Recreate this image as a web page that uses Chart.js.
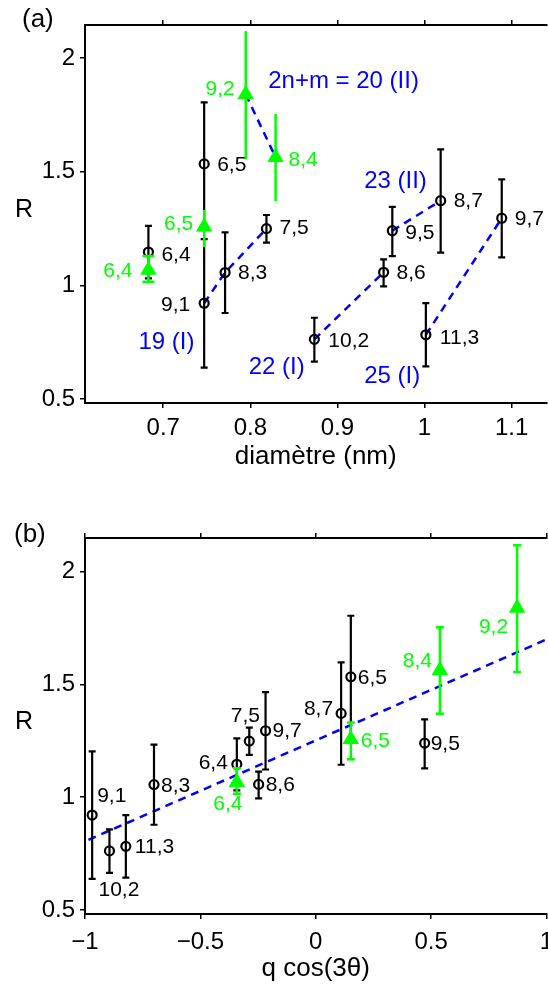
<!DOCTYPE html>
<html>
<head>
<meta charset="utf-8">
<script src="https://cdn.jsdelivr.net/npm/chart.js@4.4.1/dist/chart.umd.min.js"></script>
<style>
html, body { margin: 0; padding: 0; background: #fff; overflow: hidden; width: 548px; height: 988px; }
.panel { position: absolute; left: 0; width: 556px; height: 494px; }
#wrapA { top: 0; }
#wrapB { top: 494px; }
</style>
</head>
<body>
<div class="panel" id="wrapA"><canvas id="chartA" width="556" height="494"></canvas></div>
<div class="panel" id="wrapB"><canvas id="chartB" width="556" height="494"></canvas></div>
<script>
'use strict';

// ── データ ──────────────────────────────────────
// 黒丸 : 同じ順序で (a) と (b) に使う
const blackLabels = ['6,4', '6,5', '9,1', '8,3', '7,5', '10,2', '8,6', '9,5', '11,3', '8,7', '9,7'];
const blackDiam   = [0.683, 0.747, 0.747, 0.771, 0.8185, 0.8735, 0.953, 0.963, 1.0015, 1.0185, 1.0886];
const blackQ      = [-0.342, 0.152, -0.969, -0.701, -0.288, -0.894, -0.2475, 0.472, -0.823, 0.110, -0.2175];
const blackR      = [1.146, 1.534, 0.921, 1.056, 1.249, 0.762, 1.057, 1.240, 0.782, 1.372, 1.295];
const blackRlo    = [1.030, 1.265, 0.638, 0.878, 1.188, 0.664, 0.995, 1.128, 0.643, 1.144, 1.123];
const blackRhi    = [1.261, 1.805, 1.203, 1.233, 1.309, 0.857, 1.114, 1.345, 0.921, 1.598, 1.466];

// 緑三角
const greenLabels = ['6,4', '6,5', '9,2', '8,4'];
const greenDiam   = [0.683, 0.747, 0.7947, 0.829];
const greenQ      = [-0.342, 0.152, 0.8725, 0.538];
const greenR      = [1.067, 1.257, 1.840, 1.563];
const greenRlo    = [1.015, 1.168, 1.555, 1.370];
const greenRhi    = [1.129, 1.331, 2.118, 1.754];

// 2n+m 系列（破線でつなぐ）
const familyNames   = ['2n+m = 20 (II)', '19 (I)', '22 (I)', '23 (II)', '25 (I)'];
const familyMembers = [['9,2', '8,4'], ['9,1', '8,3', '7,5'], ['10,2', '8,6'], ['9,5', '8,7'], ['11,3', '9,7']];

// 直線フィット (b)
const fitQ = [-0.985, 1.0];
const fitR = [0.811, 1.700];

// 目盛
const rTicks    = [0.5, 1, 1.5, 2];
const diamTicks = [0.7, 0.8, 0.9, 1, 1.1];
const qTicks    = [-1, -0.5, 0, 0.5, 1];

// ── 表示設定 ─────────────────────────────────────────────
const FONT = '"Liberation Sans", Arial, Helvetica, sans-serif';
const BLACK = '#000000';
const GREEN = '#00ff00';
const BLUE  = '#0000ff';

// ラベル位置 [dx, dy, align]（px）
const offA_black = {
  '6,4': [13, 3, 'left'], '6,5': [13, 1, 'left'], '9,1': [-14, 2, 'right'], '8,3': [13, 1, 'left'],
  '7,5': [13, 0, 'left'], '10,2': [14, 2, 'left'], '8,6': [13, 1, 'left'], '9,5': [13, 2, 'left'],
  '11,3': [14, 3, 'left'], '8,7': [13, 1, 'left'], '9,7': [13, 1, 'left'],
};
const offA_green = { '6,4': [-16, 1, 'right'], '6,5': [-11, -3, 'right'], '9,2': [-11, -5, 'right'], '8,4': [13, 3, 'left'] };
const offB_black = {
  '9,1': [5, -19, 'left'], '10,2': [-11, 39, 'left'], '11,3': [9, 1, 'left'], '8,3': [7, 2, 'left'],
  '6,4': [-9, -1, 'right'], '7,5': [-4, -25, 'center'], '9,7': [7, 0, 'left'], '8,6': [7, 1, 'left'],
  '8,7': [-8, -4, 'right'], '6,5': [7, 1, 'left'], '9,5': [6, 1, 'left'],
};
const offB_green = { '6,4': [-9, 22, 'center'], '6,5': [10, 2, 'left'], '8,4': [-8, -9, 'right'], '9,2': [-9, 19, 'right'] };

// 系列名の位置（データ座標）と揃え
const familyTextPos = {
  '2n+m = 20 (II)': [0.8205, 1.895, 'left'],
  '19 (I)': [0.6716, 0.75, 'left'],
  '22 (I)': [0.8625, 0.64, 'right'],
  '23 (II)': [0.9307, 1.456, 'left'],
  '25 (I)': [0.9307, 0.601, 'left'],
};

const fmtTick = v => (v < 0 ? '\u2212' + Math.abs(v) : String(v));
const pts = (xs, ys) => xs.map((x, i) => ({ x, y: ys[i] }));

// ── プラグイン：誤差棒 ───────────────────────────────────
const errorBars = {
  id: 'errorBars',
  beforeDatasetDraw(chart, args) {
    const ds = chart.data.datasets[args.index];
    if (!ds.errLo) return;
    const { ctx } = chart;
    const ys = chart.scales.y;
    ctx.save();
    ctx.strokeStyle = ds.borderColor;
    ctx.lineWidth = ds.errWidth;
    args.meta.data.forEach((pt, i) => {
      const x = pt.x;
      const y1 = ys.getPixelForValue(ds.errLo[i]);
      const y2 = ys.getPixelForValue(ds.errHi[i]);
      const c = Array.isArray(ds.errCap) ? ds.errCap[i] : ds.errCap;
      ctx.beginPath();
      ctx.moveTo(x, y1); ctx.lineTo(x, y2);
      if (c) {
        ctx.moveTo(x - c, y1); ctx.lineTo(x + c, y1);
        ctx.moveTo(x - c, y2); ctx.lineTo(x + c, y2);
      }
      ctx.stroke();
    });
    ctx.restore();
  },
};

// ── プラグイン：文字 ─────────────────────────────────────
const annot = {
  id: 'annot',
  afterDatasetsDraw(chart, args, opts) {
    const { ctx, chartArea } = chart;
    const xs = chart.scales.x, ys = chart.scales.y;
    ctx.save();
    ctx.textBaseline = 'middle';

    // 点ラベル
    chart.data.datasets.forEach((ds, di) => {
      if (!ds.pointLabels) return;
      const meta = chart.getDatasetMeta(di);
      ctx.fillStyle = ds.labelColor;
      ctx.font = '21px ' + FONT;
      meta.data.forEach((pt, i) => {
        const name = ds.pointLabels[i];
        const o = ds.labelOffsets[name];
        ctx.textAlign = o[2];
        ctx.fillText(name, pt.x + o[0], pt.y + o[1]);
      });
    });

    // 系列名
    if (opts.families) {
      ctx.fillStyle = BLUE;
      ctx.font = '24px ' + FONT;
      opts.families.forEach(name => {
        const p = familyTextPos[name];
        ctx.textAlign = p[2];
        ctx.fillText(name, xs.getPixelForValue(p[0]), ys.getPixelForValue(p[1]));
      });
    }

    // R と (a)/(b)
    ctx.fillStyle = BLACK;
    ctx.textAlign = 'center';
    ctx.font = '25px ' + FONT;
    ctx.fillText('R', 24, (chartArea.top + chartArea.bottom) / 2 - 4);
    ctx.textAlign = 'left';
    ctx.font = '26px ' + FONT;
    ctx.fillText(opts.panel, opts.panelX, opts.panelY);
    ctx.restore();
  },
};

// ── 共通の軸 ────────────────────────────────────────────
function axisBase(min, max, ticks) {
  return {
    type: 'linear',
    min, max,
    afterBuildTicks: s => { s.ticks = ticks.map(v => ({ value: v })); },
    grid: { display: true, drawOnChartArea: false, drawTicks: true, tickLength: 5, color: BLACK, lineWidth: 1.5 },
    border: { display: true, color: BLACK, width: 2 },
  };
}

function makeChart(id, cfg) {
  const xMain = Object.assign(axisBase(cfg.xMin, cfg.xMax, cfg.xTicks), {
    position: 'bottom',
    afterFit: s => { s.height = cfg.xHeight; s.paddingLeft = 0; s.paddingRight = 0; },
    ticks: { autoSkip: false, maxRotation: 0, padding: cfg.xTickPad, color: BLACK, font: { family: FONT, size: 24 }, callback: fmtTick },
    title: { display: true, text: cfg.xTitle, color: BLACK, font: { family: FONT, size: 26 }, padding: { top: 0, bottom: cfg.xTitlePad } },
  });
  const xTop = Object.assign(axisBase(cfg.xMin, cfg.xMax, cfg.xTicks), {
    position: 'top',
    afterFit: s => { s.height = 0; s.paddingLeft = 0; s.paddingRight = 0; },
    ticks: { display: false },
  });
  const yMain = Object.assign(axisBase(cfg.yMin, cfg.yMax, rTicks), {
    position: 'left',
    afterFit: s => { s.width = 85; s.paddingTop = 0; s.paddingBottom = 0; },
    ticks: { padding: 5, color: BLACK, font: { family: FONT, size: 24 }, callback: fmtTick },
  });

  return new Chart(document.getElementById(id), {
    type: 'scatter',
    data: { datasets: cfg.datasets },
    options: {
      responsive: false,
      animation: false,
      events: [],
      layout: { padding: { left: 0, right: 4, top: cfg.padTop, bottom: 0 } },
      scales: { x: xMain, x2: xTop, y: yMain },
      plugins: {
        legend: { display: false },
        tooltip: { enabled: false },
        annot: cfg.annot,
      },
    },
    plugins: [errorBars, annot],
  });
}

function markerSets(xBlack, xGreen, offBlack, offGreen, greenCap) {
  return [
    {
      data: pts(xGreen, greenR),
      pointStyle: 'triangle', pointRadius: 8, borderWidth: 1.5,
      borderColor: GREEN, backgroundColor: GREEN,
      errLo: greenRlo, errHi: greenRhi, errWidth: 2.5, errCap: greenCap,
      pointLabels: greenLabels, labelOffsets: offGreen, labelColor: GREEN,
      clip: false,
    },
    {
      data: pts(xBlack, blackR),
      pointStyle: 'circle', pointRadius: 4.5, borderWidth: 2.2,
      borderColor: BLACK, backgroundColor: 'rgba(0,0,0,0)',
      errLo: blackRlo, errHi: blackRhi, errWidth: 2.2, errCap: 3.5,
      pointLabels: blackLabels, labelOffsets: offBlack, labelColor: BLACK,
      clip: false,
    },
  ];
}

function dashed(data) {
  return {
    data, showLine: true, pointRadius: 0, borderColor: BLUE, borderWidth: 2.5,
    borderDash: [8, 6], fill: false, clip: false,
  };
}

// ── (a) ─────────────────────────────────────────────────
const diamOf = name => {
  const b = blackLabels.indexOf(name);
  if (b >= 0) return { x: blackDiam[b], y: blackR[b] };
  const g = greenLabels.indexOf(name);
  return { x: greenDiam[g], y: greenR[g] };
};

const datasetsA = markerSets(blackDiam, greenDiam, offA_black, offA_green, [6, 0, 0, 0])
  .concat(familyMembers.map(m => dashed(m.map(diamOf))));

makeChart('chartA', {
  xMin: 0.6102, xMax: 1.14, xTicks: diamTicks, xTitle: 'diamètre (nm)',
  yMin: 0.482, yMax: 2.145,
  padTop: 25, xHeight: 91, xTickPad: 6, xTitlePad: 22,
  datasets: datasetsA,
  annot: { panel: '(a)', panelX: 22, panelY: 20, families: familyNames },
});

// ── (b) ─────────────────────────────────────────────────
const datasetsB = markerSets(blackQ, greenQ, offB_black, offB_green, 4)
  .concat([dashed(pts(fitQ, fitR))]);

makeChart('chartB', {
  xMin: -1, xMax: 1, xTicks: qTicks, xTitle: 'q cos(3θ)',
  yMin: 0.482, yMax: 2.15,
  padTop: 44, xHeight: 74, xTickPad: 9, xTitlePad: 4,
  datasets: datasetsB,
  annot: { panel: '(b)', panelX: 14, panelY: 41 },
});
</script>
</body>
</html>
